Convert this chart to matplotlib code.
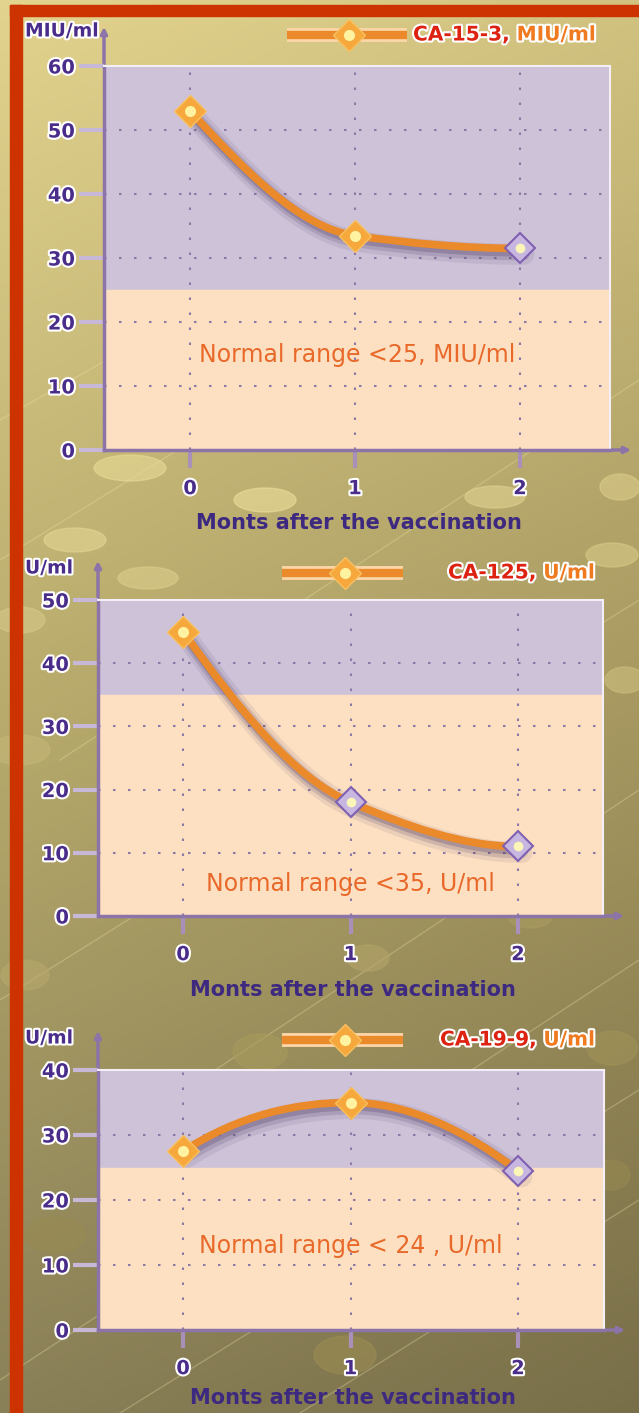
import numpy as np
import matplotlib
matplotlib.use("Agg")
import matplotlib.pyplot as plt
import matplotlib.patheffects as pe
from matplotlib.path import Path
from matplotlib.patches import PathPatch, Ellipse, Rectangle
from matplotlib import transforms

# data
months = [0, 1, 2]
ca153 = [53, 33.5, 31.5]
ca125 = [45, 18, 11]
ca199 = [27.5, 35, 24.5]
ca153_ticks = [0, 10, 20, 30, 40, 50, 60]
ca125_ticks = [0, 10, 20, 30, 40, 50]
ca199_ticks = [0, 10, 20, 30, 40]
normal_limits = [25, 35, 25]
notes = ["Normal range <25, MIU/ml", "Normal range <35, U/ml", "Normal range < 24 , U/ml"]
units = ["MIU/ml", "U/ml", "U/ml"]
legend_names = [("CA-15-3,", " MIU/ml"), ("CA-125,", " U/ml"), ("CA-19-9,", " U/ml")]
xlabel = "Monts after the vaccination"

W, H = 639, 1413
PURPLE = "#4a2d8a"
AXCOL = "#8c74a8"
ORANGE = "#ea8a2a"
halo = [pe.withStroke(linewidth=3, foreground="white")]

# panel boxes in pixels: left, right, top, bottom, x pixel of month 0 and month 2
boxes = [(104, 610, 66, 450, 190, 520),
         (98, 603, 600, 916, 183, 518),
         (98, 604, 1070, 1330, 183, 518)]
note_y = [0.247, 0.101, 0.323]
lavender = [[False, False, True], [False, True, True], [False, False, True]]


def smooth_path(x, y):
    # monotone cubic through the points, drawn as bezier segments
    x = np.asarray(x, float)
    y = np.asarray(y, float)
    h = np.diff(x)
    d = np.diff(y) / h
    m = np.zeros_like(y)
    for i in range(1, len(x) - 1):
        if d[i - 1] * d[i] > 0:
            m[i] = 2 / (1 / d[i - 1] + 1 / d[i])
    m[0] = ((2 * h[0] + h[1]) * d[0] - h[0] * d[1]) / (h[0] + h[1])
    m[-1] = ((2 * h[-1] + h[-2]) * d[-1] - h[-1] * d[-2]) / (h[-1] + h[-2])
    if np.sign(m[0]) != np.sign(d[0]):
        m[0] = 0
    if np.sign(m[-1]) != np.sign(d[-1]):
        m[-1] = 0
    verts = [(x[0], y[0])]
    codes = [Path.MOVETO]
    for i in range(len(x) - 1):
        verts += [(x[i] + h[i] / 3, y[i] + m[i] * h[i] / 3),
                  (x[i + 1] - h[i] / 3, y[i + 1] - m[i + 1] * h[i] / 3),
                  (x[i + 1], y[i + 1])]
        codes += [Path.CURVE4] * 3
    return Path(verts, codes)


def marker(ax, x, y, lav, **kw):
    if lav:
        ax.plot(x, y, "D", ms=15, mfc="#c6b6e0", mec="#8060b0", mew=1.5, zorder=5, **kw)
        ax.plot(x, y, "o", ms=7, mfc="#fbf6b8", mec="none", zorder=6, **kw)
    else:
        ax.plot(x, y, "D", ms=16, mfc="#f6a83c", mec="#f8c060", mew=1, zorder=5, **kw)
        ax.plot(x, y, "o", ms=8, mfc="#fff2a0", mec="none", zorder=6, **kw)


fig = plt.figure(figsize=(W / 100, H / 100), dpi=100)

# background
bg = fig.add_axes([0, 0, 1, 1])
bg.set_xlim(0, W)
bg.set_ylim(H, 0)
bg.axis("off")
rows = np.array([[[0xe2, 0xd3, 0x8e], [0xd2, 0xc2, 0x80]],
                 [[0xb8, 0xab, 0x6c], [0xa6, 0x98, 0x60]],
                 [[0x8a, 0x80, 0x58], [0x78, 0x6e, 0x48]]]) / 255
ty = np.linspace(0, 2, 300)[:, None, None]
tx = np.linspace(0, 1, 120)[None, :, None]
i0 = np.clip(ty.astype(int), 0, 1)
fr = ty - i0
top = rows[i0[:, 0, 0], 0][:, None, :] * (1 - tx) + rows[i0[:, 0, 0], 1][:, None, :] * tx
bot = rows[i0[:, 0, 0] + 1, 0][:, None, :] * (1 - tx) + rows[i0[:, 0, 0] + 1, 1][:, None, :] * tx
grad = top * (1 - fr) + bot * fr
bg.imshow(grad, extent=(0, W, H, 0), aspect="auto", zorder=0)

for x0, y0, x1, y1 in [(0, 560, 420, 300), (60, 760, 639, 380), (0, 1000, 639, 600),
                       (200, 1080, 639, 790), (0, 1380, 639, 960), (300, 1413, 639, 1200),
                       (0, 420, 160, 330), (120, 1413, 639, 1090)]:
    bg.plot([x0, x1], [y0, y1], color="#efe4a8", lw=1, alpha=0.3, zorder=1)

for cx, cy, w, h, c in [(265, 500, 62, 24, "#ecdf9c"), (130, 468, 72, 26, "#e8da96"),
                        (495, 497, 60, 22, "#e0d290"), (620, 487, 40, 26, "#dccd8a"),
                        (612, 555, 52, 24, "#d8ca86"), (75, 540, 62, 24, "#e4d694"),
                        (148, 578, 60, 22, "#dcce8c"), (20, 620, 50, 26, "#d6c888"),
                        (625, 680, 40, 26, "#ccbe7e"), (20, 750, 60, 30, "#c4b676"),
                        (368, 958, 42, 26, "#b2a468"), (25, 975, 48, 30, "#b6a86a"),
                        (260, 1052, 54, 36, "#a89a5c"), (612, 1048, 50, 34, "#a09256"),
                        (55, 1235, 60, 36, "#988a52"), (345, 1355, 62, 38, "#9a8c52"),
                        (610, 1175, 40, 30, "#968850"), (530, 915, 46, 26, "#aa9c60")]:
    bg.add_patch(Ellipse((cx, cy), w, h, color=c, alpha=0.6, zorder=1))

# red frame
bg.add_patch(Rectangle((10, 5), 12, H, color="#cc3300", zorder=2))
bg.add_patch(Rectangle((10, 5), W, 11, color="#cc3300", zorder=2))

series = [ca153, ca125, ca199]
ticks = [ca153_ticks, ca125_ticks, ca199_ticks]

for k in range(3):
    l, r, t, b, p0, p2 = boxes[k]
    ppu = (p2 - p0) / 2
    ax = fig.add_axes([l / W, 1 - b / H, (r - l) / W, (b - t) / H])
    ax.set_xlim(-(p0 - l) / ppu, (r - p0) / ppu)
    ymax = ticks[k][-1]
    ax.set_ylim(0, ymax)
    ax.patch.set_alpha(0)
    ax.axhspan(normal_limits[k], ymax, color="#cec2d8", zorder=0)
    ax.axhspan(0, normal_limits[k], color="#fde0c2", zorder=0)
    for yv in ticks[k][1:-1]:
        ax.axhline(yv, ls=(0, (1.2, 6)), color="#8c7aa6", lw=1.5, zorder=1)
    for xv in months:
        ax.axvline(xv, ls=(0, (1.2, 6)), color="#8c7aa6", lw=1.5, zorder=1)

    path = smooth_path(months, series[k])
    for dx, dy, lw, a in [(4, -6, 15, 0.10), (3, -5, 10, 0.18), (2, -4, 6, 0.28)]:
        off = transforms.offset_copy(ax.transData, fig=fig, x=dx, y=dy, units="dots")
        ax.add_patch(PathPatch(path, transform=off, fc="none", ec="#4e3d66",
                               lw=lw, alpha=a, capstyle="round", zorder=2))
    ax.add_patch(PathPatch(path, fc="none", ec=ORANGE, lw=5.5, capstyle="round", zorder=3))
    for xv, yv, lav in zip(months, series[k], lavender[k]):
        marker(ax, xv, yv, lav)

    ax.text(0.5, note_y[k], notes[k], transform=ax.transAxes, ha="center", va="center",
            color="#e8692a", fontsize=17)

    for s in ["top", "right"]:
        ax.spines[s].set_color("#f4eef8")
        ax.spines[s].set_linewidth(1.5)
    for s in ["left", "bottom"]:
        ax.spines[s].set_color(AXCOL)
        ax.spines[s].set_linewidth(2.5)
    ax.set_yticks(ticks[k])
    ax.set_xticks(months)
    ax.tick_params(axis="y", length=18, width=3, color="#c8b8d8", pad=3)
    ax.tick_params(axis="x", length=13, width=3, color="#a890b8", pad=8)
    for lab in ax.get_xticklabels() + ax.get_yticklabels():
        lab.set_fontsize(14)
        lab.set_fontweight("bold")
        lab.set_color(PURPLE)
        lab.set_path_effects(halo)

    # axis extensions with arrow heads
    bg.annotate("", xy=(l, t - 42), xytext=(l, t), zorder=3,
                arrowprops=dict(arrowstyle="-|>", color=AXCOL, lw=2.5, mutation_scale=9))
    bg.annotate("", xy=(r + 24, b), xytext=(l - 22, b), zorder=3,
                arrowprops=dict(arrowstyle="-|>", color=AXCOL, lw=2.5, mutation_scale=9))

    # unit label and legend
    ly = t - 32 if k else 31
    bg.text(25, ly, units[k], ha="left", va="center", fontsize=13.5, fontweight="bold",
            color=PURPLE, path_effects=halo, zorder=4)
    lx0, lx1 = (287, 407) if k == 0 else (282, 403)
    leg_y = [35, 573, 1040][k]
    bg.plot([lx0, lx1], [leg_y, leg_y], color="#fbd6a8", lw=10, solid_capstyle="butt", zorder=3)
    bg.plot([lx0, lx1], [leg_y, leg_y], color=ORANGE, lw=6, solid_capstyle="butt", zorder=4)
    marker(bg, (lx0 + lx1) / 2 + 2, leg_y, False)
    t1 = bg.text([413, 448, 440][k], leg_y, legend_names[k][0], ha="left", va="center",
                 fontsize=14.5, fontweight="bold", color="#dd2211", path_effects=halo, zorder=4)
    bg.annotate(legend_names[k][1], xy=(1, 0.5), xycoords=t1, ha="left", va="center",
                fontsize=14.5, fontweight="bold", color="#f07a20", path_effects=halo, zorder=4)

    # x axis title
    bg.text((l + r) / 2 + 2, b + [73, 74, 68][k], xlabel, ha="center", va="center",
            fontsize=15, fontweight="bold", color="#3d2a80", zorder=4)

fig.savefig("out.png", dpi=100)
